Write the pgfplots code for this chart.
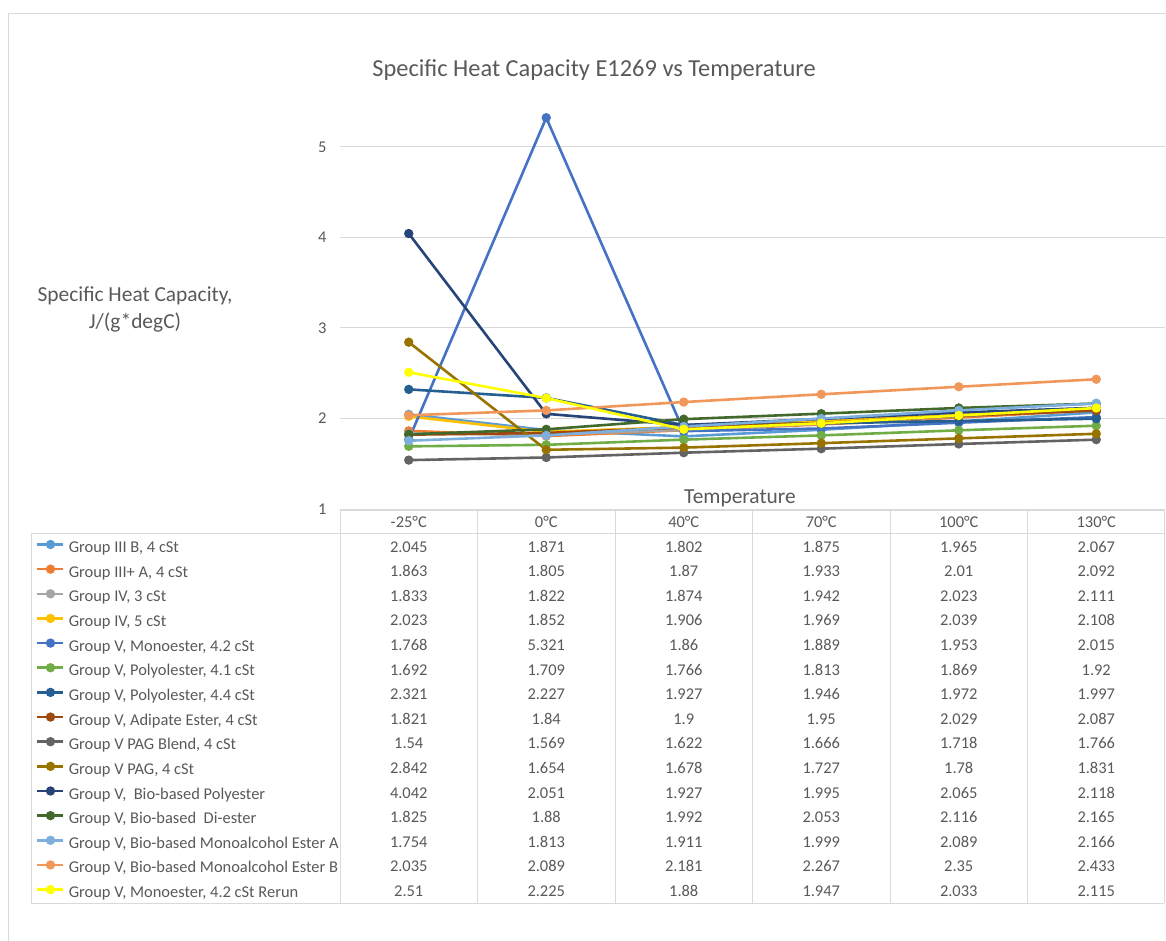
\documentclass[border=0pt]{standalone}
\usepackage{pgfplots}
\usepackage{pgfplotstable}
\pgfplotsset{compat=1.18}
\usepackage{fontspec}
\setmainfont{Carlito}

% series colours
\definecolor{cA}{HTML}{5B9BD5}
\definecolor{cB}{HTML}{ED7D31}
\definecolor{cC}{HTML}{A5A5A5}
\definecolor{cD}{HTML}{FFC000}
\definecolor{cE}{HTML}{4472C4}
\definecolor{cF}{HTML}{70AD47}
\definecolor{cG}{HTML}{255E91}
\definecolor{cH}{HTML}{9E480E}
\definecolor{cI}{HTML}{636363}
\definecolor{cJ}{HTML}{997300}
\definecolor{cK}{HTML}{264478}
\definecolor{cL}{HTML}{43682B}
\definecolor{cM}{HTML}{7CAFDD}
\definecolor{cN}{HTML}{F1975A}
\definecolor{cO}{HTML}{FFFF00}
\definecolor{txtgray}{HTML}{595959}
\definecolor{linegray}{HTML}{D9D9D9}

\newcommand\tablefont{\fontsize{16.5}{18}\selectfont}

% specific heat capacity, J/(g*degC); rows: -25, 0, 40, 70, 100, 130 degC
\pgfplotstableread{
x s1 s2 s3 s4 s5 s6 s7 s8 s9 s10 s11 s12 s13 s14 s15
0 2.045 1.863 1.833 2.023 1.768 1.692 2.321 1.821 1.54 2.842 4.042 1.825 1.754 2.035 2.51
1 1.871 1.805 1.822 1.852 5.321 1.709 2.227 1.84 1.569 1.654 2.051 1.88 1.813 2.089 2.225
2 1.802 1.87 1.874 1.906 1.86 1.766 1.927 1.9 1.622 1.678 1.927 1.992 1.911 2.181 1.88
3 1.875 1.933 1.942 1.969 1.889 1.813 1.946 1.95 1.666 1.727 1.995 2.053 1.999 2.267 1.947
4 1.965 2.01 2.023 2.039 1.953 1.869 1.972 2.029 1.718 1.78 2.065 2.116 2.089 2.35 2.033
5 2.067 2.092 2.111 2.108 2.015 1.92 1.997 2.087 1.766 1.831 2.118 2.165 2.166 2.433 2.115
}\cpdata

\begin{document}
\begin{tikzpicture}
\useasboundingbox (0,0) rectangle (1166bp,-941bp);

\begin{axis}[
  at={(340bp,-509bp)}, anchor=south west,
  scale only axis, width=825bp, height=407.5bp,
  xmin=-0.5, xmax=5.5, ymin=1, ymax=5.5,
  xtick=\empty, ytick={1,2,3,4,5},
  ymajorgrids, major grid style={linegray, line width=0.8bp},
  axis line style={draw=none}, major tick length=0pt,
  yticklabel style={font=\tablefont, text=txtgray, xshift=-10bp},
  /pgf/number format/assume math mode=true,
  clip=false,
  every axis plot/.append style={line width=2.6bp, mark=*, mark size=3.3bp},
  legend image code/.code={\draw[mark repeat=2,mark phase=2, line width=2.6bp, mark size=3.3bp]
     plot coordinates {(0bp,4.5bp)(13bp,4.5bp)(26bp,4.5bp)};},
  legend cell align=left,
  legend style={at={(axis description cs:-0.3685,-0.0785)}, anchor=north west,
     draw=none, fill=none, inner sep=0pt, row sep=10.35bp, column sep=4bp,
     font=\tablefont, text=txtgray,
     nodes={inner sep=0pt, text height=10bp, text depth=3bp}},
]
\addplot[color=cA, mark options={fill=cA}] table[x=x, y=s1] {\cpdata};
\addlegendentry{Group III B, 4 cSt}
\addplot[color=cB, mark options={fill=cB}] table[x=x, y=s2] {\cpdata};
\addlegendentry{Group III+ A, 4 cSt}
\addplot[color=cC, mark options={fill=cC}] table[x=x, y=s3] {\cpdata};
\addlegendentry{Group IV, 3 cSt}
\addplot[color=cD, mark options={fill=cD}] table[x=x, y=s4] {\cpdata};
\addlegendentry{Group IV, 5 cSt}
\addplot[color=cE, mark options={fill=cE}] table[x=x, y=s5] {\cpdata};
\addlegendentry{Group V, Monoester, 4.2 cSt}
\addplot[color=cF, mark options={fill=cF}] table[x=x, y=s6] {\cpdata};
\addlegendentry{Group V, Polyolester, 4.1 cSt}
\addplot[color=cG, mark options={fill=cG}] table[x=x, y=s7] {\cpdata};
\addlegendentry{Group V, Polyolester, 4.4 cSt}
\addplot[color=cH, mark options={fill=cH}] table[x=x, y=s8] {\cpdata};
\addlegendentry{Group V, Adipate Ester, 4 cSt}
\addplot[color=cI, mark options={fill=cI}] table[x=x, y=s9] {\cpdata};
\addlegendentry{Group V PAG Blend, 4 cSt}
\addplot[color=cJ, mark options={fill=cJ}] table[x=x, y=s10] {\cpdata};
\addlegendentry{Group V PAG, 4 cSt}
\addplot[color=cK, mark options={fill=cK}] table[x=x, y=s11] {\cpdata};
\addlegendentry{Group V,\ \ Bio-based Polyester}
\addplot[color=cL, mark options={fill=cL}] table[x=x, y=s12] {\cpdata};
\addlegendentry{Group V, Bio-based\ \ Di-ester}
\addplot[color=cM, mark options={fill=cM}] table[x=x, y=s13] {\cpdata};
\addlegendentry{Group V, Bio-based Monoalcohol Ester A}
\addplot[color=cN, mark options={fill=cN}] table[x=x, y=s14] {\cpdata};
\addlegendentry{Group V, Bio-based Monoalcohol Ester B}
\addplot[color=cO, mark options={fill=cO}] table[x=x, y=s15] {\cpdata};
\addlegendentry{Group V, Monoester, 4.2 cSt Rerun}
\end{axis}

\begin{scope}[x=1bp, y=-1bp]
  % chart frame
  \draw[linegray, line width=1.2bp] (8.5,1000) -- (8.5,13.5) -- (1200,13.5);
  % titles
  \node[text=txtgray, font=\fontsize{24.5}{28}\selectfont] at (594,70) {Specific Heat Capacity E1269 vs Temperature};
  \node[text=txtgray, font=\fontsize{21.5}{27}\selectfont, align=center] at (135,309) {Specific Heat Capacity,\\J/(g*degC)};
  \node[text=txtgray, font=\fontsize{21.5}{24}\selectfont] at (740,498) {Temperature};
  % data table grid
  \draw[linegray, line width=0.8bp] (340,510) -- (1164,510);
  \draw[linegray, line width=0.8bp] (31,533.5) -- (1164,533.5);
  \draw[linegray, line width=0.8bp] (31,903) -- (1164,903);
  \draw[linegray, line width=0.8bp] (31,533.5) -- (31,903);
  \foreach \cx in {340,477.5,615,752.5,890,1027.5,1164}
    \draw[linegray, line width=0.8bp] (\cx,510) -- (\cx,903);
  % header row
  \foreach \lab [count=\i from 0] in {-25°C,0°C,40°C,70°C,100°C,130°C}
    \node[text=txtgray, font=\tablefont, anchor=base] at ({408.75+137.5*\i},527) {\lab};
  % value cells, read from the data table
  \foreach \r in {0,...,14} {
    \pgfmathtruncatemacro\c{\r+1}
    \foreach \i in {0,...,5} {
      \pgfplotstablegetelem{\i}{s\c}\of\cpdata
      \node[text=txtgray, font=\tablefont, anchor=base]
        at ({408.75+137.5*\i},{552+24.6*\r}) {\pgfplotsretval};
    }
  }
\end{scope}
\end{tikzpicture}
\end{document}
